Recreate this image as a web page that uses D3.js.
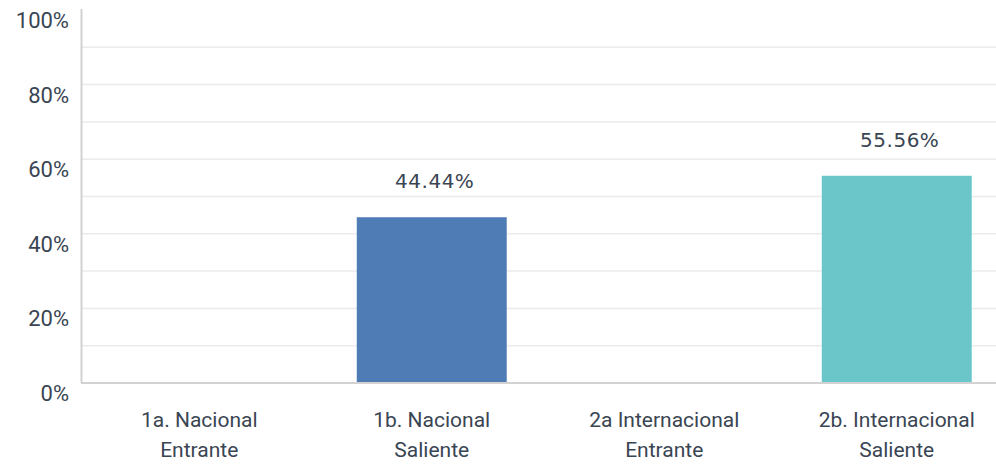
<!DOCTYPE html>
<html>
<head>
<meta charset="utf-8">
<script src="https://cdn.jsdelivr.net/npm/d3@7"></script>
<style>
  html, body { margin: 0; padding: 0; background: #fff; }
  svg { display: block; }
  .tick-label { font-family: Roboto, "Noto Sans", sans-serif; font-size: 22px; fill: #3a4553; }
  .cat-label  { font-family: Roboto, "Noto Sans", sans-serif; font-size: 21px; fill: #3a4553; }
  .val-label  { font-family: "DejaVu Sans", sans-serif; font-size: 20px; fill: #3a4553; letter-spacing: 0.5px; }
</style>
</head>
<body>
<svg id="chart" width="996" height="465"></svg>
<script>
  // chart data
  const categories = ["1a. Nacional Entrante", "1b. Nacional Saliente", "2a Internacional Entrante", "2b. Internacional Saliente"];
  const labelLines = [["1a. Nacional", "Entrante"], ["1b. Nacional", "Saliente"], ["2a Internacional", "Entrante"], ["2b. Internacional", "Saliente"]];
  const values     = [0, 44.44, 0, 55.56];
  const barColors  = ["#4f7cb5", "#4f7cb5", "#6bc6ca", "#6bc6ca"];
  const yTicks     = [0, 20, 40, 60, 80, 100];
  const gridTicks  = [10, 20, 30, 40, 50, 60, 70, 80, 90];

  const svg = d3.select("#chart");
  const width = 996;

  const plotLeft = 82;
  const x = d3.scaleBand()
    .domain(categories)
    .range([83, 1013])
    .paddingInner(0.355)
    .paddingOuter(0.1775);

  const y = d3.scaleLinear()
    .domain([0, 100])
    .range([383, 10]);

  // horizontal grid lines
  svg.append("g")
    .selectAll("line")
    .data(gridTicks)
    .enter()
    .append("line")
    .attr("x1", plotLeft)
    .attr("x2", width)
    .attr("y1", d => y(d))
    .attr("y2", d => y(d))
    .attr("stroke", "#ebebeb")
    .attr("stroke-width", 1.5);

  // bars
  svg.append("g")
    .selectAll("rect")
    .data(categories)
    .enter()
    .append("rect")
    .attr("x", d => x(d))
    .attr("width", x.bandwidth())
    .attr("y", (d, i) => y(values[i]))
    .attr("height", (d, i) => y(0) - y(values[i]))
    .attr("fill", (d, i) => barColors[i]);

  // axis lines
  svg.append("line")
    .attr("x1", plotLeft - 0.5).attr("x2", plotLeft - 0.5)
    .attr("y1", y(100) - 1).attr("y2", y(0))
    .attr("stroke", "#d2d2d2").attr("stroke-width", 2);

  svg.append("line")
    .attr("x1", plotLeft - 1).attr("x2", width)
    .attr("y1", y(0)).attr("y2", y(0))
    .attr("stroke", "#d2d2d2").attr("stroke-width", 2);

  // y tick labels (drawn a bit below their lines, as in the original)
  svg.append("g")
    .selectAll("text")
    .data(yTicks)
    .enter()
    .append("text")
    .attr("class", "tick-label")
    .attr("x", 69)
    .attr("y", d => y(d) + 18)
    .attr("text-anchor", "end")
    .text(d => d + "%");

  // value labels
  svg.append("g")
    .selectAll("text")
    .data(categories.filter((d, i) => values[i] > 0))
    .enter()
    .append("text")
    .attr("class", "val-label")
    .attr("x", d => x(d) + x.bandwidth() / 2 + 3)
    .attr("y", d => y(values[categories.indexOf(d)]) - 29)
    .attr("text-anchor", "middle")
    .text(d => values[categories.indexOf(d)].toFixed(2) + "%");

  // category labels
  const catG = svg.append("g")
    .selectAll("text")
    .data(categories)
    .enter()
    .append("text")
    .attr("class", "cat-label")
    .attr("text-anchor", "middle")
    .attr("x", d => x(d) + x.bandwidth() / 2)
    .attr("y", 427);

  catG.each(function(d, i) {
    const t = d3.select(this);
    const cx = x(d) + x.bandwidth() / 2;
    labelLines[i].forEach((line, j) => {
      t.append("tspan")
        .attr("x", cx)
        .attr("dy", j === 0 ? 0 : 30)
        .text(line);
    });
  });
</script>
</body>
</html>
